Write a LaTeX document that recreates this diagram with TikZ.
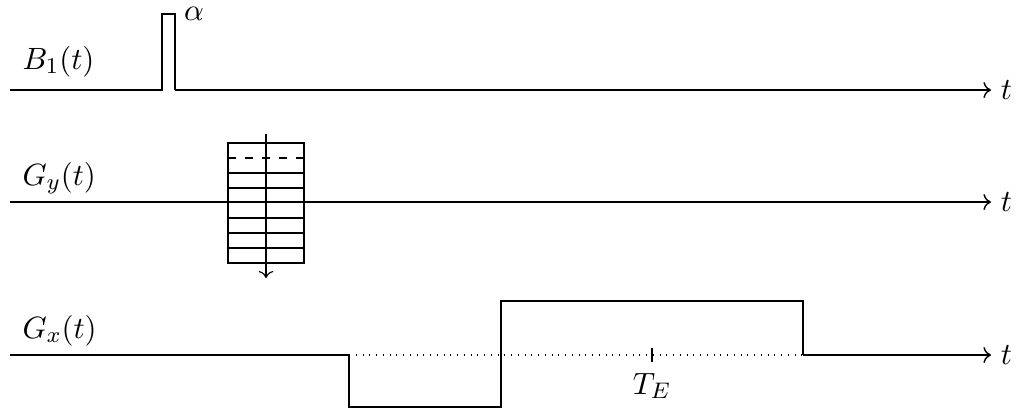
\documentclass[tikz,border=0pt]{standalone}
\usepackage{amsmath}
\usepackage{tikz}
\usetikzlibrary{arrows.meta}

\begin{document}
\begin{tikzpicture}[
  x=0.0125cm,y=-0.0125cm,
  signal/.style={line width=0.5pt},
  axis/.style={line width=0.5pt,->},
  lbl/.style={anchor=base west,inner sep=0pt,font=\fontsize{11}{13}\selectfont},
  tlbl/.style={right,font=\fontsize{11}{13}\selectfont},
  encode/.style={thin},
  readout/.style={dotted}
]
\useasboundingbox (0,0) rectangle (1017,408);

% labels of the three channels
\node[lbl] (lb) at (22,69) {$B_1(t)$};
\node[lbl] (lgy) at (22,185) {$G_y(t)$};
\node[lbl] (lgx) at (22,338) {$G_x(t)$};

% time axes
\coordinate (b0) at (10,90);
\coordinate (bend) at (991,90);
\coordinate (gy0) at (10,202);
\coordinate (gyend) at (991,202);
\coordinate (gx0) at (10,355);
\coordinate (gxend) at (991,355);
\node[tlbl] (tb) at (bend) {$t$};
\node[tlbl] (tgy) at (gyend) {$t$};
\node[tlbl] (tgx) at (gxend) {$t$};

% rf pulse
\coordinate (p1) at (162,90);
\coordinate (p2) at (162,14);
\coordinate (p3) at (175,14);
\coordinate (p4) at (175,90);
\draw[signal] (b0) -- (p1) -- (p2) -- (p3) -- (p4);
\draw[axis] (p4) -- (bend);
\node[inner sep=0pt,font=\fontsize{11}{13}\selectfont] (alpha) at (194,14) {$\alpha$};

% phase encoding table
\draw[axis] (gy0) -- (gyend);
\draw[encode] (228,143) rectangle (304,263);
\draw[encode,dashed] (228,158) -- (304,158);
\foreach \yy in {173,188,218,233,248}
  \draw[encode] (228,\yy) -- (304,\yy);
\coordinate (pe0) at (266,134);
\coordinate (pe1) at (266,278);
\draw[thin,->] (pe0) -- (pe1);

% readout gradient
\coordinate (g1) at (349,355);
\coordinate (g2) at (349,407);
\coordinate (g3) at (501,407);
\coordinate (g4) at (501,301);
\coordinate (g5) at (803,301);
\coordinate (g6) at (803,355);
\draw[signal] (gx0) -- (g1) -- (g2) -- (g3) -- (g4) -- (g5) -- (g6);
\draw[axis] (g6) -- (gxend);
\draw[readout] (g1) -- (g6);
\coordinate (te) at (652,355);
\draw[thin] ([yshift=0.09cm]te) -- ([yshift=-0.09cm]te);
\node[font=\fontsize{11}{13}\selectfont] (lte) at (652,386) {$T_E$};
\end{tikzpicture}
\end{document}
